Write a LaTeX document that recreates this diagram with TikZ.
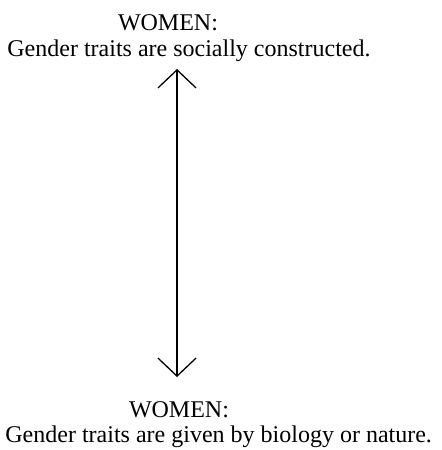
\documentclass[tikz,border=0pt]{standalone}
\usepackage{fontspec}
\setmainfont{Liberation Serif}
\usepackage{tikz}
\usetikzlibrary{arrows.meta}
\tikzset{
  label text/.style={inner sep=0pt, font=\fontsize{12pt}{14pt}\selectfont},
  barb/.tip={Straight Barb[length=9pt, width=19pt, line width=0.65pt]}
}

\begin{document}
\begin{tikzpicture}[x=0.5pt, y=-0.5pt]
  \useasboundingbox (0,0) rectangle (442,450);
  % Testo in alto
  \node[label text, anchor=base] (topHead) at (168,30) {WOMEN:};
  \node[label text, anchor=base west] (topText) at (7,56) {Gender traits are socially constructed.};
  % Testo in basso
  \node[label text, anchor=base] (botHead) at (179,417) {WOMEN:};
  \node[label text, anchor=base west] (botText) at (5,442) {Gender traits are given by biology or nature.};
  % Freccia
  \coordinate (upTip) at (177,69);
  \coordinate (downTip) at (177,377);
  \draw[line width=0.65pt, barb-barb] (upTip) -- (downTip);
\end{tikzpicture}
\end{document}
